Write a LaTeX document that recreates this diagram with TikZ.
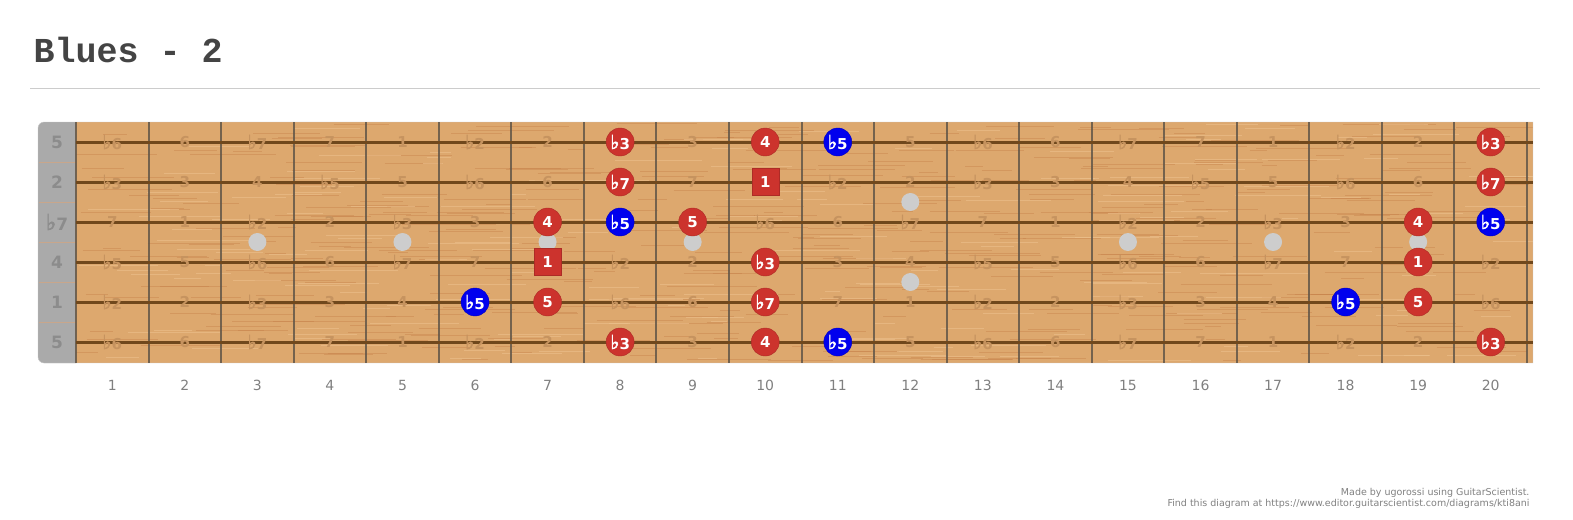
\documentclass[tikz,border=0pt]{standalone}
\usepackage{fontspec}
\setmainfont{DejaVu Sans}
\newfontfamily\titlefont{Liberation Mono}
\newfontfamily\flatfont[FakeBold=2.5]{DejaVu Sans}
\definecolor{wood}{RGB}{221,168,110}
\definecolor{grain}{RGB}{196,126,72}
\definecolor{grainlight}{RGB}{236,192,140}
\definecolor{woodtext}{RGB}{198,147,95}
\definecolor{stringbrown}{RGB}{112,72,28}
\definecolor{fretgray}{RGB}{98,86,72}
\definecolor{nutgray}{RGB}{170,170,170}
\definecolor{nuttext}{RGB}{140,140,140}
\definecolor{notered}{RGB}{204,51,45}
\definecolor{noteblue}{RGB}{0,0,238}
\definecolor{dotgray}{RGB}{205,205,205}
\definecolor{titlegray}{RGB}{68,68,68}

% interval name from semitone count
\newcommand{\fl}{{\flatfont\scalebox{1.3}{♭}}}
\newcommand{\ivl}[1]{\ifcase#1 1\or \fl2\or 2\or \fl3\or 3\or 4\or \fl5\or 5\or \fl6\or 6\or \fl7\or 7\fi}

\tikzset{
  rnote/.style={circle, fill=notered, draw=notered!85!black, minimum size=28pt, inner sep=0pt,
    text=white, font=\bfseries\fontsize{15}{15}\selectfont},
  bnote/.style={rnote, fill=noteblue, draw=noteblue!80!black},
  root/.style={rnote, rectangle, minimum size=27pt},
  ghost/.style={text=woodtext, font=\bfseries\fontsize{15}{15}\selectfont},
  fretnum/.style={text=gray, font=\fontsize{14}{14}\selectfont},
  marker/.style={circle, fill=dotgray, minimum size=18pt, inner sep=0pt},
}

\begin{document}
\begin{tikzpicture}[x=1pt, y=-1pt]
\useasboundingbox (0,0) rectangle (1573,519);

% Title
\node[anchor=base west, text=titlegray, font=\titlefont\bfseries\fontsize{35}{35}\selectfont] (title) at (30,63) {Blues - 2};
\draw[gray!40] (30,88) -- (1540,88);

% Nut and fretboard
\fill[nutgray, rounded corners=6pt] (38,122) rectangle (82,363);
\fill[wood] (76,122) rectangle (1533,363);
\pgfmathsetseed{7}
\foreach \k in {1,...,420} {
  \pgfmathsetmacro\gx{76+rnd*1420}
  \pgfmathsetmacro\gy{123+rnd*238}
  \pgfmathsetmacro\gl{15+rnd*80}
  \draw[grain, opacity=0.4, line width=0.7pt] (\gx,\gy) -- ({min(\gx+\gl,1533)},\gy);
}
\foreach \k in {1,...,200} {
  \pgfmathsetmacro\gx{76+rnd*1420}
  \pgfmathsetmacro\gy{123+rnd*238}
  \pgfmathsetmacro\gl{15+rnd*80}
  \draw[grainlight, opacity=0.6, line width=0.7pt] (\gx,\gy) -- ({min(\gx+\gl,1533)},\gy);
}
\draw[gray!45] (1533,122) [rounded corners=6pt] -- (38,122) -- (38,363) [sharp corners] -- (1533,363) -- cycle;
\foreach \i in {1,...,5}
  \draw[grain!70, opacity=0.7] (39,{122+40*\i}) -- (76,{122+40*\i});

% Frets
\foreach \f in {0,...,20}
  \draw[fretgray, line width=2pt, opacity=0.85] ({76+72.55*\f},122) -- ({76+72.55*\f},363);

% Fret markers
\foreach \f in {3,5,7,9,15,17,19}
  \node[marker] (dot\f) at ({76+72.55*(\f-0.5)},242) {};
\node[marker] (dot12a) at ({76+72.55*11.5},202) {};
\node[marker] (dot12b) at ({76+72.55*11.5},282) {};

% Strings with open-string intervals
\foreach \s/\o in {1/7,2/2,3/10,4/5,5/0,6/7} {
  \draw[stringbrown, line width=3pt] (76,{102+40*\s}) -- (1533,{102+40*\s});
  \node[text=nuttext, font=\bfseries\fontsize{17}{17}\selectfont] (open\s) at (57,{102+40*\s}) {\ivl{\o}};
  \foreach \f in {1,...,20} {
    \pgfmathtruncatemacro\k{mod(\o+\f,12)}
    \node[ghost] (g\s-\f) at ({76+72.55*(\f-0.5)},{102+40*\s}) {\ivl{\k}};
  }
}

% Fret numbers
\foreach \f in {1,...,20}
  \node[fretnum] (num\f) at ({76+72.55*(\f-0.5)},385) {\f};

% Scale notes
\foreach \s/\f/\t/\sty in {1/8/\fl3/rnote, 1/10/4/rnote, 1/11/\fl5/bnote, 1/20/\fl3/rnote,
    2/8/\fl7/rnote, 2/10/1/root, 2/20/\fl7/rnote,
    3/7/4/rnote, 3/8/\fl5/bnote, 3/9/5/rnote, 3/19/4/rnote, 3/20/\fl5/bnote,
    4/7/1/root, 4/10/\fl3/rnote, 4/19/1/rnote,
    5/6/\fl5/bnote, 5/7/5/rnote, 5/10/\fl7/rnote, 5/18/\fl5/bnote, 5/19/5/rnote,
    6/8/\fl3/rnote, 6/10/4/rnote, 6/11/\fl5/bnote, 6/20/\fl3/rnote}
  \node[\sty] (n\s-\f) at ({76+72.55*(\f-0.5)},{102+40*\s}) {\t};

% Footer
\node[anchor=base east, text=gray, font=\fontsize{9.5}{9.5}\selectfont] (made) at (1533,495) {Made by ugorossi using GuitarScientist.};
\node[anchor=base east, text=gray, font=\fontsize{9.5}{9.5}\selectfont] (link) at (1533,506) {Find this diagram at https://www.editor.guitarscientist.com/diagrams/kti8ani};
\end{tikzpicture}
\end{document}
